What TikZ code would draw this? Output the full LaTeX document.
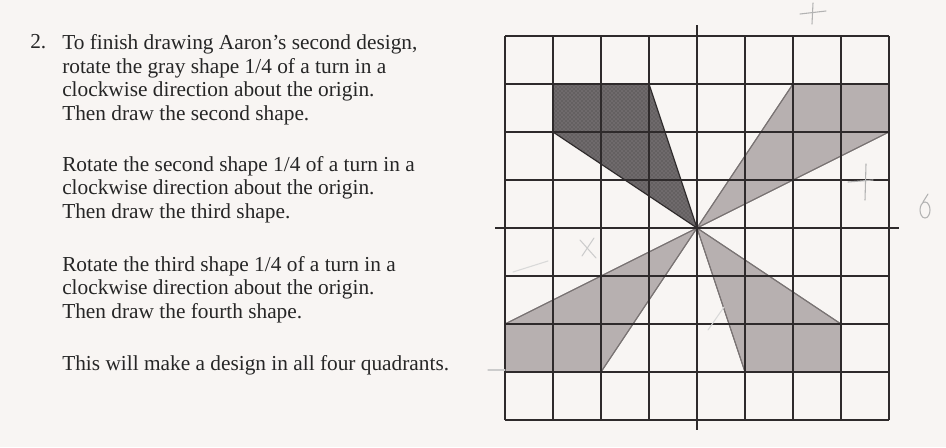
\documentclass[tikz,border=0pt]{standalone}
\usepackage{fontspec}
\setmainfont{Liberation Serif}
\usetikzlibrary{positioning,patterns}
\definecolor{paper}{HTML}{F8F5F3}
\definecolor{inkline}{HTML}{2E2A2B}
\definecolor{stipple}{HTML}{6F6A6C}
\definecolor{pencilfill}{HTML}{B7B0B0}
\definecolor{pencilline}{HTML}{7A7474}
\tikzset{
  prompt/.style={anchor=base west, inner sep=0pt, align=left, font=\fontsize{16}{17.6}\selectfont, text=black!85},
  gridline/.style={line width=1.2pt, draw=inkline},
  axisline/.style={line width=2pt, draw=inkline},
  grayshape/.style={fill=stipple, draw=inkline, line width=0.9pt},
  dotshade/.style={pattern=crosshatch dots, pattern color=black!75},
  studentshape/.style={fill=pencilfill, draw=pencilline, line width=0.8pt},
  pencil/.style={draw=black!30, line width=0.8pt, line cap=round}
}

\begin{document}
\begin{tikzpicture}[x=0.75pt, y=-0.75pt]
  \fill[paper] (0,0) rectangle (946,447);
  \useasboundingbox (0,0) rectangle (946,447);

  \node[prompt] (qnum) at (30,48) {2.};
  \node[prompt] (para1) at (62,120) {To finish drawing Aaron's second design,\\rotate the gray shape 1/4 of a turn in a\\clockwise direction about the origin.\\Then draw the second shape.};
  \node[prompt] (para2) at (62,218) {Rotate the second shape 1/4 of a turn in a\\clockwise direction about the origin.\\Then draw the third shape.};
  \node[prompt] (para3) at (62,318) {Rotate the third shape 1/4 of a turn in a\\clockwise direction about the origin.\\Then draw the fourth shape.};
  \node[prompt] (para4) at (62,370) {This will make a design in all four quadrants.};

  \begin{scope}[shift={(697,228)}, x=36pt, y=36pt]
    \fill[studentshape] (2,3) -- (4,3) -- (4,2) -- (0,0) -- cycle;
    \fill[studentshape] (0,0) -- (1,-3) -- (3,-3) -- (3,-2) -- cycle;
    \fill[studentshape] (0,0) -- (-4,-2) -- (-4,-3) -- (-2,-3) -- cycle;
    \draw[studentshape, fill=none] (2,3) -- (0,0) -- (4,2);
    \draw[studentshape, fill=none] (1,-3) -- (0,0) -- (3,-2);
    \draw[studentshape, fill=none] (-4,-2) -- (0,0) -- (-2,-3);
    \fill[stipple] (-3,3) -- (-1,3) -- (0,0) -- (-3,2) -- cycle;
    \fill[dotshade] (-3,3) -- (-1,3) -- (0,0) -- (-3,2) -- cycle;
    \draw[grayshape, fill=none] (-1,3) -- (0,0) -- (-3,2);
    \foreach \k in {-4,...,4} {
      \draw[gridline] (\k,-4) -- (\k,4);
      \draw[gridline] (-4,\k) -- (4,\k);
    }
    \draw[axisline] (-4.2,0) -- (4.2,0);
    \draw[axisline] (0,-4.2) -- (0,4.23);
  \end{scope}

  \draw[pencil] (800,14) -- (826,11);
  \draw[pencil] (813,3) -- (812,24);
  \draw[pencil] (848,182) -- (873,180);
  \draw[pencil] (866,164) -- (865,200);
  \draw[pencil] (925,210) ellipse [x radius=5, y radius=8];
  \draw[pencil] (923,202) -- (928,194);
  \draw[pencil, draw=black!20] (580,240) -- (596,258);
  \draw[pencil, draw=black!20] (594,238) -- (582,256);
  \draw[pencil, draw=black!15] (513,272) -- (548,261);
  \draw[pencil, draw=black!15] (708,330) -- (724,307);
  \draw[pencil, draw=black!20] (488,370) -- (505,370);
\end{tikzpicture}
\end{document}
